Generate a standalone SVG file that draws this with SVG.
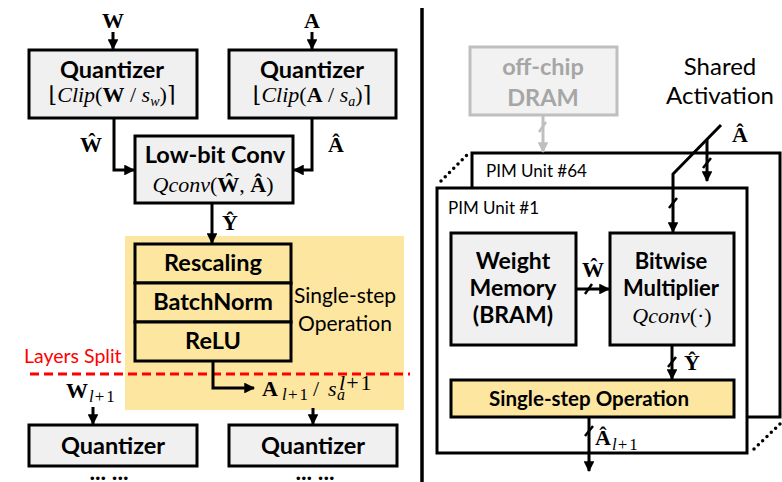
<svg xmlns="http://www.w3.org/2000/svg" width="782" height="482" viewBox="0 0 782 482">
<style>
.box{fill:#f0f0f0;stroke:#000;stroke-width:3}
.ybox{fill:#fde6a0;stroke:#000;stroke-width:3}
.wbox{fill:#fff;stroke:#000;stroke-width:3}
.lbl{font-family:Lato,"Liberation Sans",sans-serif;font-weight:bold;font-size:23.5px;fill:#000;text-anchor:middle}
.reg{font-family:Lato,"Liberation Sans",sans-serif;font-size:21px;fill:#000;text-anchor:middle}
.m{font-family:"Liberation Serif","DejaVu Serif",serif;font-size:22px;fill:#000}
.mb{font-weight:bold}
.mi{font-style:italic}
.ln{fill:none;stroke:#000;stroke-width:3}
.sl{fill:none;stroke:#000;stroke-width:2.5}
.dot{fill:none;stroke:#000;stroke-width:3.5;stroke-linecap:round;stroke-dasharray:0 6}
</style>
<defs>
<marker id="ah" viewBox="0 0 10 10" refX="9" refY="5" markerWidth="3.6" markerHeight="3.6" orient="auto" markerUnits="strokeWidth">
<path d="M0,0 L10,5 L0,10 z" fill="#000"/>
</marker>
<marker id="ahg" viewBox="0 0 10 10" refX="9" refY="5" markerWidth="3.6" markerHeight="3.6" orient="auto" markerUnits="strokeWidth">
<path d="M0,0 L10,5 L0,10 z" fill="#bfbfbf"/>
</marker>
</defs>
<rect width="782" height="482" fill="#fff"/>

<!-- yellow region -->
<rect id="single-step-region" x="125" y="236" width="279" height="174" fill="#fde6a0"/>

<!-- Left side nodes -->
<g id="quantizer-w">
<rect class="box" x="29" y="50" width="168" height="68"/>
<text class="lbl" x="112" y="78">Quantizer</text>
<text class="m" x="112" y="102" text-anchor="middle">⌊<tspan class="mi">Clip</tspan>(<tspan class="mb">W</tspan> / <tspan class="mi">s</tspan><tspan class="mi" font-size="14" dy="4">w</tspan><tspan dy="-4">)⌉</tspan></text>
</g>
<g id="quantizer-a">
<rect class="box" x="229" y="50" width="167" height="68"/>
<text class="lbl" x="312" y="78">Quantizer</text>
<text class="m" x="312" y="102" text-anchor="middle">⌊<tspan class="mi">Clip</tspan>(<tspan class="mb">A</tspan> / <tspan class="mi">s</tspan><tspan class="mi" font-size="14" dy="4">a</tspan><tspan dy="-4">)⌉</tspan></text>
</g>
<g id="lowbit-conv">
<rect class="box" x="135" y="136" width="158" height="67"/>
<text class="lbl" x="215" y="163">Low-bit Conv</text>
<text class="m" x="213" y="192" text-anchor="middle" font-size="23"><tspan class="mi">Qconv</tspan>(<tspan class="mb">Ŵ</tspan>, <tspan class="mb">Â</tspan>)</text>
</g>
<g id="rescaling">
<rect class="ybox" x="135" y="244" width="156" height="39"/>
<text class="lbl" x="213" y="271">Rescaling</text>
</g>
<g id="batchnorm">
<rect class="ybox" x="135" y="283" width="156" height="39"/>
<text class="lbl" x="213" y="310">BatchNorm</text>
</g>
<g id="relu">
<rect class="ybox" x="135" y="322" width="156" height="39"/>
<text class="lbl" x="213" y="349">ReLU</text>
</g>
<g id="single-step-label">
<text class="reg" x="345" y="303">Single-step</text>
<text class="reg" x="345" y="331">Operation</text>
</g>
<g id="layers-split">
<text font-family="Lato,'Liberation Sans',sans-serif" font-size="19.5" fill="#ff0000" x="24" y="363">Layers Split</text>
<line x1="30" y1="374" x2="410" y2="374" stroke="#ff0000" stroke-width="3" stroke-dasharray="9 5"/>
</g>
<g id="quantizer-w-next">
<rect class="box" x="29" y="425" width="168" height="41"/>
<text class="lbl" x="113" y="454">Quantizer</text>
<text class="lbl" x="109" y="480">... ...</text>
</g>
<g id="quantizer-a-next">
<rect class="box" x="229" y="425" width="168" height="41"/>
<text class="lbl" x="313" y="454">Quantizer</text>
<text class="lbl" x="315" y="480">... ...</text>
</g>

<!-- divider -->
<line x1="422" y1="8" x2="422" y2="482" stroke="#000" stroke-width="3.5"/>

<!-- Right side -->
<g id="dram">
<rect x="470" y="47" width="147" height="68" fill="#f2f2f2" stroke="#bfbfbf" stroke-width="3"/>
<text class="lbl" x="543" y="75" style="fill:#a6a6a6">off-chip</text>
<text class="lbl" x="543" y="106" style="fill:#a6a6a6">DRAM</text>
</g>
<g id="shared-activation">
<text class="reg" x="720" y="75" style="font-size:24px">Shared</text>
<text class="reg" x="720" y="104" style="font-size:24px">Activation</text>
</g>
<g id="pim64">
<rect class="wbox" x="472" y="153" width="308" height="264"/>
<text font-family="Lato,'Liberation Sans',sans-serif" font-size="17" x="486" y="177">PIM Unit #64</text>
</g>
<g id="pim1">
<rect class="wbox" x="437" y="188" width="310" height="265"/>
<text font-family="Lato,'Liberation Sans',sans-serif" font-size="17" x="448" y="214">PIM Unit #1</text>
</g>
<g id="weight-memory">
<rect class="box" x="451" y="233" width="125" height="112"/>
<text class="lbl" x="513" y="269" style="font-size:23px">Weight</text>
<text class="lbl" x="513" y="296" style="font-size:23px">Memory</text>
<text class="lbl" x="513" y="323" style="font-size:23px">(BRAM)</text>
</g>
<g id="bitwise-multiplier">
<rect class="box" x="610" y="233" width="124" height="112"/>
<text class="lbl" x="671" y="269" style="font-size:22px">Bitwise</text>
<text class="lbl" x="671" y="296" style="font-size:22px">Multiplier</text>
<text class="m" x="672" y="323" text-anchor="middle" font-size="23"><tspan class="mi">Qconv</tspan>(·)</text>
</g>
<g id="single-step-op">
<rect class="ybox" x="451" y="380" width="283" height="37"/>
<text class="lbl" x="589" y="406" style="font-size:20.5px">Single-step Operation</text>
</g>
<g id="ellipses">
<line class="dot" x1="441" y1="181" x2="467" y2="155"/>
<line class="dot" x1="754" y1="449" x2="781" y2="423"/>
</g>

<!-- connectors -->
<g id="connectors">
<line class="ln" x1="113" y1="32" x2="113" y2="49" marker-end="url(#ah)"/>
<line class="ln" x1="312" y1="32" x2="312" y2="49" marker-end="url(#ah)"/>
<polyline class="ln" points="114,118 114,170 134,170" marker-end="url(#ah)"/>
<polyline class="ln" points="312,118 312,170 294,170" marker-end="url(#ah)"/>
<line class="ln" x1="212" y1="203" x2="212" y2="243" marker-end="url(#ah)"/>
<polyline class="ln" points="213,361 213,388 254,388" marker-end="url(#ah)"/>
<line class="ln" x1="93" y1="407" x2="93" y2="424" marker-end="url(#ah)"/>
<line class="ln" x1="313" y1="408" x2="313" y2="424" marker-end="url(#ah)"/>

<line x1="543" y1="115" x2="543" y2="152" stroke="#bfbfbf" stroke-width="3" marker-end="url(#ahg)"/>
<line x1="539" y1="132" x2="546" y2="122" stroke="#bfbfbf" stroke-width="2.5"/>

<polyline class="ln" points="721,125 673,174 673,232" marker-end="url(#ah)"/>
<line class="sl" x1="669" y1="208" x2="677" y2="198"/>
<line class="ln" x1="707" y1="140" x2="707" y2="181" marker-end="url(#ah)"/>
<line class="sl" x1="703" y1="168" x2="711" y2="158"/>

<line class="ln" x1="576" y1="289" x2="609" y2="289" marker-end="url(#ah)"/>
<line class="sl" x1="585" y1="294" x2="592" y2="284"/>
<line class="ln" x1="672" y1="345" x2="672" y2="379" marker-end="url(#ah)"/>
<line class="sl" x1="668" y1="367" x2="676" y2="357"/>
<line class="ln" x1="589" y1="417" x2="589" y2="471" marker-end="url(#ah)"/>
<line class="sl" x1="585" y1="436" x2="593" y2="426"/>
</g>

<!-- math labels -->
<g id="labels">
<text class="m mb" x="113" y="28" text-anchor="middle" font-size="25">W</text>
<text class="m mb" x="312" y="28" text-anchor="middle" font-size="25">A</text>
<text class="m mb" x="91" y="152" text-anchor="middle">Ŵ</text>
<text class="m mb" x="336" y="152" text-anchor="middle">Â</text>
<text class="m mb" x="230" y="230" text-anchor="middle">Ŷ</text>
<text class="m" x="66" y="398"><tspan class="mb">W</tspan><tspan class="mi" font-size="17" dy="4" dx="1">l</tspan><tspan font-size="17" dx="1" letter-spacing="2">+1</tspan></text>
<text class="m" x="262" y="396"><tspan class="mb">A</tspan><tspan class="mi" font-size="17" x="282" dy="4">l</tspan><tspan font-size="17" x="288" letter-spacing="2">+1</tspan><tspan x="313" dy="-4">/</tspan><tspan class="mi" x="328">s</tspan><tspan class="mi" font-size="16" x="337" dy="4">a</tspan></text>
<text class="m" x="339" y="390" font-size="16"><tspan class="mi">l</tspan><tspan dx="1" letter-spacing="2">+1</tspan></text>
<text class="m mb" x="740" y="142" text-anchor="middle">Â</text>
<text class="m mb" x="593" y="277" text-anchor="middle">Ŵ</text>
<text class="m mb" x="692" y="370" text-anchor="middle">Ŷ</text>
<text class="m" x="595" y="445"><tspan class="mb">Â</tspan><tspan class="mi" font-size="17" dy="5" dx="1">l</tspan><tspan font-size="17" dx="1" letter-spacing="2">+1</tspan></text>
</g>
</svg>
